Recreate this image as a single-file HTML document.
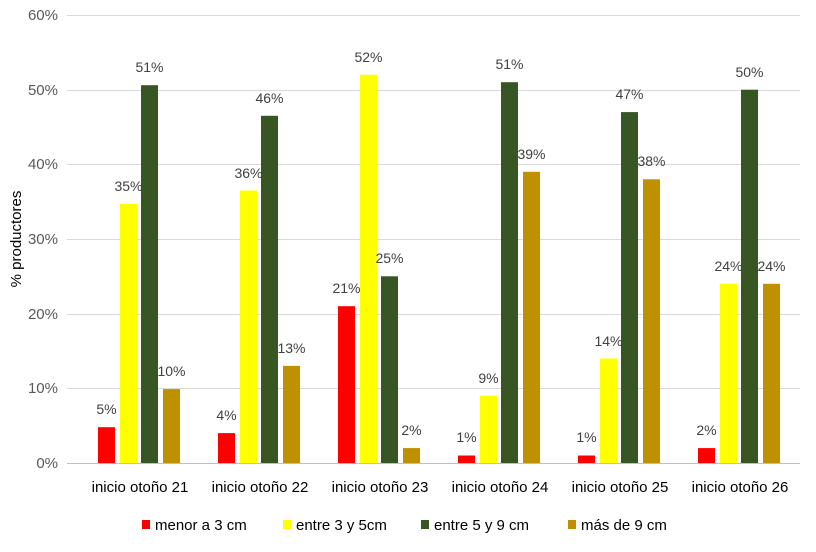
<!DOCTYPE html>
<html><head><style>body{margin:0;background:#fff}svg{display:block}text{font-family:"Liberation Sans",sans-serif}</style></head><body>
<svg width="816" height="552" xmlns="http://www.w3.org/2000/svg">
<g stroke="#d9d9d9" stroke-width="1">
<line x1="67" x2="800" y1="15.5" y2="15.5"/><line x1="67" x2="800" y1="90.5" y2="90.5"/><line x1="67" x2="800" y1="164.5" y2="164.5"/><line x1="67" x2="800" y1="239.5" y2="239.5"/><line x1="67" x2="800" y1="314.5" y2="314.5"/><line x1="67" x2="800" y1="388.5" y2="388.5"/><line x1="67" x2="800" y1="463.5" y2="463.5" stroke="#bfbfbf"/>
</g>
<g font-size="15" fill="#595959" text-anchor="end">
<text x="58" y="20">60%</text><text x="58" y="95">50%</text><text x="58" y="169">40%</text><text x="58" y="244">30%</text><text x="58" y="319">20%</text><text x="58" y="393">10%</text><text x="58" y="468">0%</text>
</g>
<text transform="translate(21,239) rotate(-90)" font-size="15" fill="#000" text-anchor="middle">% productores</text>
<g>
<rect x="98" y="427.2" width="17" height="35.8" fill="#ff0000"/><rect x="120" y="203.9" width="17" height="259.1" fill="#ffff00"/><rect x="141" y="85.2" width="17" height="377.8" fill="#375623"/><rect x="163" y="389.1" width="17" height="73.9" fill="#bf9000"/>
<rect x="218" y="433.1" width="17" height="29.9" fill="#ff0000"/><rect x="240" y="190.5" width="17" height="272.5" fill="#ffff00"/><rect x="261" y="115.8" width="17" height="347.2" fill="#375623"/><rect x="283" y="365.9" width="17" height="97.1" fill="#bf9000"/>
<rect x="338" y="306.2" width="17" height="156.8" fill="#ff0000"/><rect x="360" y="74.7" width="17" height="388.3" fill="#ffff00"/><rect x="381" y="276.3" width="17" height="186.7" fill="#375623"/><rect x="403" y="448.1" width="17" height="14.9" fill="#bf9000"/>
<rect x="458" y="455.5" width="17" height="7.5" fill="#ff0000"/><rect x="480" y="395.8" width="17" height="67.2" fill="#ffff00"/><rect x="501" y="82.2" width="17" height="380.8" fill="#375623"/><rect x="523" y="171.8" width="17" height="291.2" fill="#bf9000"/>
<rect x="578" y="455.5" width="17" height="7.5" fill="#ff0000"/><rect x="600" y="358.5" width="17" height="104.5" fill="#ffff00"/><rect x="621" y="112.1" width="17" height="350.9" fill="#375623"/><rect x="643" y="179.3" width="17" height="283.7" fill="#bf9000"/>
<rect x="698" y="448.1" width="17" height="14.9" fill="#ff0000"/><rect x="720" y="283.8" width="17" height="179.2" fill="#ffff00"/><rect x="741" y="89.7" width="17" height="373.3" fill="#375623"/><rect x="763" y="283.8" width="17" height="179.2" fill="#bf9000"/>
</g>
<g font-size="14" fill="#404040" text-anchor="middle">
<text x="106.5" y="414">5%</text><text x="128.5" y="191">35%</text><text x="149.5" y="72">51%</text><text x="171.5" y="376">10%</text>
<text x="226.5" y="420">4%</text><text x="248.5" y="178">36%</text><text x="269.5" y="103">46%</text><text x="291.5" y="353">13%</text>
<text x="346.5" y="293">21%</text><text x="368.5" y="62">52%</text><text x="389.5" y="263">25%</text><text x="411.5" y="435">2%</text>
<text x="466.5" y="442">1%</text><text x="488.5" y="383">9%</text><text x="509.5" y="69">51%</text><text x="531.5" y="159">39%</text>
<text x="586.5" y="442">1%</text><text x="608.5" y="346">14%</text><text x="629.5" y="99">47%</text><text x="651.5" y="166">38%</text>
<text x="706.5" y="435">2%</text><text x="728.5" y="271">24%</text><text x="749.5" y="77">50%</text><text x="771.5" y="271">24%</text>
</g>
<g font-size="15" fill="#000" text-anchor="middle">
<text x="140" y="492">inicio otoño 21</text><text x="260" y="492">inicio otoño 22</text><text x="380" y="492">inicio otoño 23</text><text x="500" y="492">inicio otoño 24</text><text x="620" y="492">inicio otoño 25</text><text x="740" y="492">inicio otoño 26</text>
</g>
<g font-size="15" fill="#000">
<rect x="142" y="520" width="8" height="9" fill="#ff0000"/><text x="155" y="530">menor a 3 cm</text>
<rect x="283" y="520" width="8" height="9" fill="#ffff00"/><text x="296" y="530">entre 3 y 5cm</text>
<rect x="421" y="520" width="8" height="9" fill="#375623"/><text x="434" y="530">entre 5 y 9 cm</text>
<rect x="568" y="520" width="8" height="9" fill="#bf9000"/><text x="581" y="530">más de 9 cm</text>
</g>
</svg>
</body></html>
